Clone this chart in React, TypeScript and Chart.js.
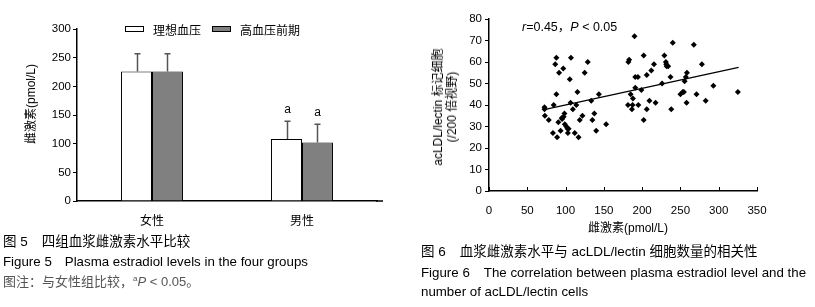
import React, { useEffect, useRef } from "react";
import { Chart, registerables } from "chart.js";

Chart.register(...registerables);

// ---------- Figure 5 data ----------
const barCategories = ["女性", "男性"];
const seriesNames = ["理想血压", "高血压前期"];
const idealValues = [226, 108];
const preValues = [226, 102];
const idealErrors = [31, 31];
const preErrors = [31, 32];
const idealMarks = ["", "a"];
const preMarks = ["", "a"];
const barYTicks = [0, 50, 100, 150, 200, 250, 300];

// ---------- Figure 6 data ----------
const scatterX = [
  72.5, 72.5, 73, 78, 83.5, 84.5, 88, 86.5, 88, 89, 90.5, 91.5, 95, 93.5, 97, 95.5,
  97.5, 98.5, 99, 101, 102.5, 103, 104, 105.5, 106.5, 107, 109.5, 112, 114, 115.5,
  117, 118.5, 122, 125, 129, 133.5, 135, 137.5, 140, 143.5, 153,
  181.5, 183, 182, 185, 186.7, 187.5, 188, 190, 191, 191, 194.5, 195, 199, 202, 202,
  206, 206, 209.5, 212, 215.5, 217.5, 226, 229, 231, 231.5, 232, 234, 237, 238, 240,
  250, 253, 254.5, 255.5, 257, 258.5, 258, 267.5, 271, 278, 283, 293, 325,
];
const scatterY = [
  39, 38, 35, 33, 27, 40, 62, 59, 45, 25, 32, 55, 34, 28, 57, 33.5,
  34.5, 36, 31, 30, 29, 27, 29, 52, 41, 62, 38, 27, 40, 46,
  25, 33, 35, 55, 60, 42, 33, 36, 28, 45, 31,
  40, 61, 60, 45, 38, 40, 43, 72, 53, 48, 53, 40, 47, 63, 33,
  54, 38, 42, 56, 59, 41, 50, 63, 60, 59, 58, 58, 53, 38, 69,
  45, 46, 46, 51, 53, 55, 41, 68, 45, 59, 42, 49, 46,
];
const fitLineX = [72, 326];
const fitLineY = [37.8, 57.5];
const scatterXTicks = [0, 50, 100, 150, 200, 250, 300, 350];
const scatterYTicks = [0, 10, 20, 30, 40, 50, 60, 70, 80];

const LAT = '"Liberation Sans", Arial, "Noto Sans CJK SC", sans-serif';
const CJK = '"Noto Sans CJK SC", "Liberation Sans", sans-serif';
const AXIS_W = 1.5;

const barExtras = {
  id: "barExtras",
  afterDatasetsDraw(chart: any) {
    const ctx = chart.ctx;
    const ys = chart.scales.y;
    chart.data.datasets.forEach((ds: any, i: number) => {
      const meta = chart.getDatasetMeta(i);
      meta.data.forEach((el: any, j: number) => {
        const top = ys.getPixelForValue(ds.data[j] + ds.errors[j]);
        const x = Math.round(el.x) + 0.5;
        ctx.save();
        ctx.strokeStyle = "#555";
        ctx.lineWidth = 1.5;
        ctx.beginPath();
        ctx.moveTo(x, el.y);
        ctx.lineTo(x, top);
        ctx.moveTo(x - 3, top);
        ctx.lineTo(x + 3, top);
        ctx.stroke();
        if (ds.marks[j]) {
          ctx.fillStyle = "#000";
          ctx.font = '12px "Liberation Sans", Arial, sans-serif';
          ctx.textAlign = "center";
          ctx.textBaseline = "alphabetic";
          ctx.fillText(ds.marks[j], x, top - 8);
        }
        ctx.restore();
      });
    });
  },
  afterDraw(chart: any) {
    const ctx = chart.ctx;
    const ca = chart.chartArea;
    ctx.save();
    // extend baseline a bit past last category
    ctx.strokeStyle = "#000";
    ctx.lineWidth = AXIS_W;
    ctx.beginPath();
    const yb = chart.scales.x.top;
    ctx.moveTo(ca.right - 1, yb);
    ctx.lineTo(ca.right + 6, yb);
    ctx.stroke();
    // legend
    let x = ca.left + 48;
    const yc = 29;
    ctx.lineWidth = 1;
    ctx.font = '12px "Noto Sans CJK SC", sans-serif';
    chart.data.datasets.forEach((ds: any) => {
      ctx.fillStyle = ds.backgroundColor;
      ctx.fillRect(x, yc - 3, 19, 6);
      ctx.strokeStyle = "#000";
      ctx.strokeRect(x + 0.5, yc - 3 + 0.5, 18, 5);
      x += 28;
      ctx.fillStyle = "#000";
      ctx.textAlign = "left";
      ctx.textBaseline = "middle";
      ctx.fillText(ds.label, x, yc + 1);
      x += ctx.measureText(ds.label).width + 11;
    });
    ctx.restore();
  },
};

const scatterExtras = {
  id: "scatterExtras",
  afterDraw(chart: any) {
    const ctx = chart.ctx;
    const xs = chart.scales.x;
    const ca = chart.chartArea;
    ctx.save();
    ctx.strokeStyle = "#000";
    ctx.lineWidth = 1;
    ctx.beginPath();
    scatterXTicks.forEach((v) => {
      const px = Math.round(xs.getPixelForValue(v)) + 0.5;
      ctx.moveTo(px, ca.bottom);
      ctx.lineTo(px, ca.bottom - 4);
    });
    ctx.stroke();
    ctx.restore();
  },
};

function BarChart() {
  const ref = useRef<HTMLCanvasElement | null>(null);
  useEffect(() => {
    if (!ref.current) return;
    const chart = new Chart(ref.current, {
      type: "bar",
      data: {
        labels: barCategories,
        datasets: [
          {
            label: seriesNames[0],
            data: idealValues,
            backgroundColor: "#ffffff",
            borderColor: "#000",
            borderWidth: 1,
            categoryPercentage: 0.413,
            barPercentage: 1,
            errors: idealErrors,
            marks: idealMarks,
          } as any,
          {
            label: seriesNames[1],
            data: preValues,
            backgroundColor: "#808080",
            borderColor: "#000",
            borderWidth: 1,
            categoryPercentage: 0.413,
            barPercentage: 1,
            errors: preErrors,
            marks: preMarks,
          } as any,
        ],
      },
      options: {
        animation: false,
        responsive: false,
        devicePixelRatio: 1,
        layout: { padding: { left: 0, top: 29, right: 23, bottom: 0 } },
        plugins: { legend: { display: false }, tooltip: { enabled: false } },
        scales: {
          x: {
            grid: { display: false, drawTicks: false },
            border: { display: true, color: "#000", width: AXIS_W },
            ticks: { color: "#000", padding: 12, font: { family: CJK, size: 12 } },
            afterFit: (s: any) => {
              s.height = 39;
            },
          },
          y: {
            min: 0,
            max: 300,
            afterBuildTicks: (s: any) => {
              s.ticks = barYTicks.map((v) => ({ value: v }));
            },
            grid: { display: true, drawOnChartArea: false, drawTicks: true, tickLength: 4, color: "#000" },
            border: { display: true, color: "#000", width: AXIS_W },
            ticks: { color: "#000", padding: 2, font: { family: LAT, size: 11.5 } },
            afterFit: (s: any) => {
              s.width = 77;
            },
          },
        },
      },
      plugins: [barExtras],
    } as any);
    return () => chart.destroy();
  }, []);
  return (
    <canvas
      ref={ref}
      width={400}
      height={240}
      style={{ position: "absolute", left: 0, top: 0, width: 400, height: 240 }}
    />
  );
}

function ScatterChart() {
  const ref = useRef<HTMLCanvasElement | null>(null);
  useEffect(() => {
    if (!ref.current) return;
    const chart = new Chart(ref.current, {
      type: "scatter",
      data: {
        datasets: [
          {
            type: "scatter",
            data: scatterX.map((x, i) => ({ x, y: scatterY[i] })),
            pointStyle: "rectRot",
            pointRadius: 3,
            backgroundColor: "#000",
            borderColor: "#000",
            borderWidth: 0,
          },
          {
            type: "line",
            data: fitLineX.map((x, i) => ({ x, y: fitLineY[i] })),
            borderColor: "#000",
            borderWidth: 1.3,
            pointRadius: 0,
            fill: false,
            showLine: true,
          },
        ],
      },
      options: {
        animation: false,
        responsive: false,
        devicePixelRatio: 1,
        layout: { padding: { left: 0, top: 19, right: 58, bottom: 0 } },
        plugins: { legend: { display: false }, tooltip: { enabled: false } },
        scales: {
          x: {
            type: "linear",
            min: 0,
            max: 350,
            afterBuildTicks: (s: any) => {
              s.ticks = scatterXTicks.map((v) => ({ value: v }));
            },
            grid: { display: false, drawTicks: false },
            border: { display: true, color: "#000", width: AXIS_W },
            ticks: { color: "#000", padding: 13, font: { family: LAT, size: 11.5 } },
            afterFit: (s: any) => {
              s.height = 49;
            },
          },
          y: {
            type: "linear",
            min: 0,
            max: 80,
            afterBuildTicks: (s: any) => {
              s.ticks = scatterYTicks.map((v) => ({ value: v }));
            },
            grid: { display: true, drawOnChartArea: false, drawTicks: true, tickLength: 4, color: "#000" },
            border: { display: true, color: "#000", width: AXIS_W },
            ticks: { color: "#000", padding: 3, font: { family: LAT, size: 11.5 } },
            afterFit: (s: any) => {
              s.width = 89;
            },
          },
        },
      },
      plugins: [scatterExtras],
    } as any);
    return () => chart.destroy();
  }, []);
  return (
    <canvas
      ref={ref}
      width={415}
      height={240}
      style={{ position: "absolute", left: 400, top: 0, width: 415, height: 240 }}
    />
  );
}

const abs = (o: any): any => ({ position: "absolute", whiteSpace: "nowrap", margin: 0, ...o });

export default function App() {
  return (
    <div
      style={{
        position: "absolute",
        left: 0,
        top: 0,
        width: 815,
        height: 307,
        background: "#fff",
        overflow: "hidden",
        color: "#000",
        fontFamily: LAT,
      }}
    >
      <BarChart />
      <ScatterChart />

      {/* Figure 5 y title */}
      <div
        style={abs({
          left: 31,
          top: 104,
          fontSize: 12,
          lineHeight: "14px",
          transform: "translate(-50%, -50%) rotate(-90deg)",
        })}
      >
        雌激素(pmol/L)
      </div>

      {/* Figure 6 y title */}
      <div
        style={abs({
          left: 445,
          top: 107,
          fontSize: 12,
          lineHeight: "14px",
          textAlign: "center",
          transform: "translate(-50%, -50%) rotate(-90deg)",
        })}
      >
        <div>acLDL/lectin 标记细胞</div>
        <div>(/200 倍视野)</div>
      </div>

      {/* Figure 6 x title */}
      <div
        style={abs({
          left: 628,
          top: 228,
          fontSize: 12,
          lineHeight: "14px",
          transform: "translate(-50%, -50%)",
        })}
      >
        雌激素(pmol/L)
      </div>

      {/* correlation annotation */}
      <div style={abs({ left: 522, top: 19, fontSize: 12.5, lineHeight: "16px" })}>
        <i>r</i>=0.45，<i>P</i> &lt; 0.05
      </div>

      {/* Figure 5 captions */}
      <div style={abs({ left: 3, top: 234, fontSize: 13.5, lineHeight: "16px" })}>
        图 5<span style={{ marginLeft: 14 }}>四组血浆雌激素水平比较</span>
      </div>
      <div style={abs({ left: 3, top: 254, fontSize: 13.3, lineHeight: "16px" })}>
        Figure 5<span style={{ marginLeft: 13 }}>Plasma estradiol levels in the four groups</span>
      </div>
      <div style={abs({ left: 3, top: 271, fontSize: 13, lineHeight: "16px", color: "#555" })}>
        图注：与女性组比较，<sup style={{ fontSize: 8 }}>a</sup>
        <i>P</i> &lt; 0.05。
      </div>

      {/* Figure 6 captions */}
      <div style={abs({ left: 421, top: 244, fontSize: 13.5, lineHeight: "16px" })}>
        图 6<span style={{ marginLeft: 14 }}>血浆雌激素水平与 acLDL/lectin 细胞数量的相关性</span>
      </div>
      <div style={abs({ left: 421, top: 265, fontSize: 13.3, lineHeight: "16px" })}>
        Figure 6<span style={{ marginLeft: 14 }}>The correlation between plasma estradiol level and the</span>
      </div>
      <div style={abs({ left: 421, top: 284, fontSize: 13.3, lineHeight: "16px" })}>
        number of acLDL/lectin cells
      </div>
    </div>
  );
}
